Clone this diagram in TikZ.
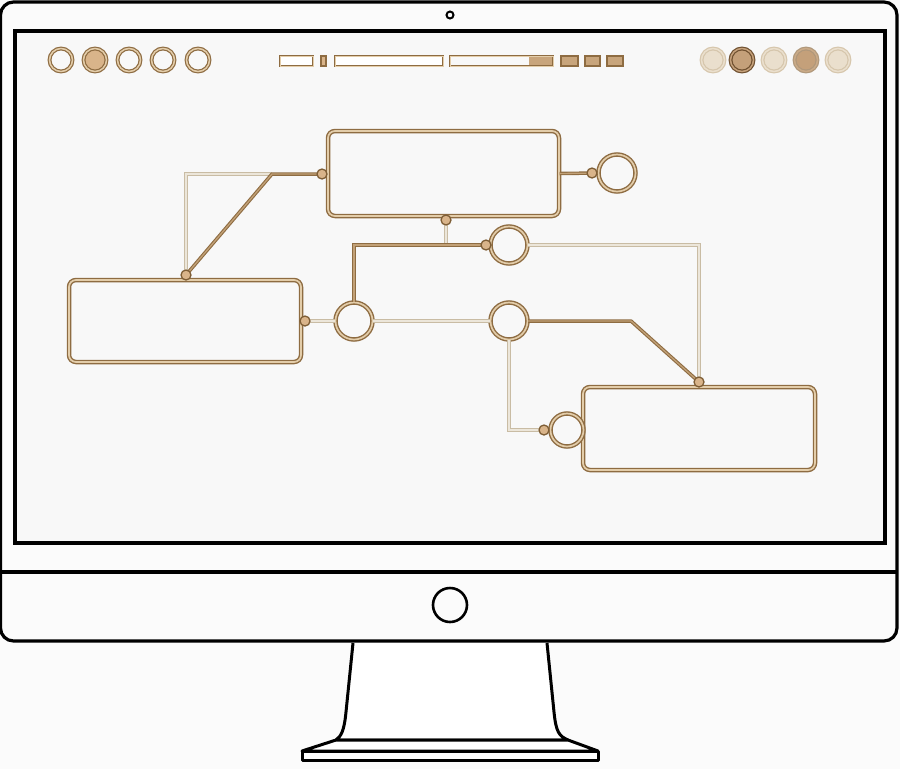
\documentclass[tikz,border=0pt]{standalone}
\usepackage{tikz}
\begin{document}
\begin{tikzpicture}[x=1pt,y=-1pt,
  frame/.style={draw=black,line width=3.2pt},
  diabox/.style={draw=tanDark,double=tanLight,double distance=1.7pt,line width=1.4pt,rounded corners=7pt,fill=screenbg,inner sep=0pt},
  ring/.style={circle,draw=tanDark,double=tanLight,double distance=1.7pt,line width=1.4pt,fill=screenbg,inner sep=0pt},
  port/.style={circle,draw=portLine,line width=1.3pt,fill=portFill,minimum size=10pt,inner sep=0pt},
  darkline/.style={draw=tanDark,double=tanMid,double distance=1.3pt,line width=1.1pt},
  paleline/.style={draw=paleLine,double=paleInner,double distance=1.4pt,line width=1.1pt},
  tbring/.style={circle,draw=tanDark,double=tanLight,double distance=1.5pt,line width=1.2pt,minimum size=23pt,inner sep=0pt},
  tbbar/.style={draw=tanDark,double=tanLight,double distance=0.8pt,line width=0.9pt,fill=white},
  tbsq/.style={draw=tanDark,line width=1.5pt,fill=tanSq}
]
\definecolor{tanDark}{HTML}{8E6C42}
\definecolor{tanMid}{HTML}{C2A177}
\definecolor{tanLight}{HTML}{E3CDAA}
\definecolor{portFill}{HTML}{D9B48A}
\definecolor{portLine}{HTML}{7E5E36}
\definecolor{paleLine}{HTML}{C9BCA4}
\definecolor{paleInner}{HTML}{ECE6DA}
\definecolor{screenbg}{HTML}{F8F8F8}
\definecolor{pagebg}{HTML}{FBFBFB}
\definecolor{tanSq}{HTML}{C8A57C}
\definecolor{beigeA}{HTML}{EADFCD}
\definecolor{beigeB}{HTML}{D6C6AC}
\definecolor{brownA}{HTML}{C4A07A}
\definecolor{brownB}{HTML}{6F5030}

\fill[pagebg] (0,0) rectangle (900,769);
\useasboundingbox (0,0) rectangle (900,769);

% stand
\draw[frame,line width=3pt,fill=white,line join=round]
  (353,643) -- (346,712) .. controls (344,732) and (341,736) .. (336,740) -- (568,740)
  .. controls (559,736) and (556,732) .. (554,712) -- (547,643);
\draw[frame,line width=3pt,fill=white,line join=round]
  (336,740) -- (302,751) -- (598,751) -- (568,740) -- cycle;
\draw[frame,line width=3pt,fill=white,line join=round] (302,751) rectangle (598,760);

% monitor body
\draw[frame,fill=pagebg,rounded corners=13pt] (0.5,2) rectangle (897,641);
\draw[frame] (0,572) -- (898,572);
\draw[frame,line width=3.6pt,fill=screenbg] (15,31) rectangle (885,543);
\node[circle,draw=black,line width=2pt,minimum size=7pt,inner sep=0pt] (cam) at (450,15) {};
\node[circle,draw=black,line width=2.6pt,minimum size=34pt,inner sep=0pt] (btn) at (450,605) {};

% toolbar left circles
\node[tbring,fill=screenbg] (l1) at (61,60) {};
\node[tbring,fill=portFill] (l2) at (95,60) {};
\node[tbring,fill=screenbg] (l3) at (129,60) {};
\node[tbring,fill=screenbg] (l4) at (163,60) {};
\node[tbring,fill=screenbg] (l5) at (198,60) {};
% toolbar right circles
\node[tbring,draw=beigeB,double=beigeA,fill=beigeA] (r1) at (713,60) {};
\node[tbring,draw=brownB,double=brownA,fill=brownA] (r2) at (742,60) {};
\node[tbring,draw=beigeB,double=beigeA,fill=beigeA] (r3) at (774,60) {};
\node[tbring,draw=tanDark!70,double=brownA!90,fill=brownA] (r4) at (806,60) {};
\node[tbring,draw=beigeB,double=beigeA,fill=beigeA] (r5) at (838,60) {};
% toolbar bars
\draw[tbbar] (280,56) rectangle (313,66);
\draw[tbsq,fill=portFill,line width=1.2pt] (321,56) rectangle (326,66);
\draw[tbbar] (335,56) rectangle (443,66);
\fill[tanSq] (529,56) rectangle (553,66);
\draw[tbbar,fill=none] (450,56) rectangle (553,66);
\draw[tbsq] (561,56) rectangle (578,66);
\draw[tbsq] (585,56) rectangle (600,66);
\draw[tbsq] (607,56) rectangle (623,66);

% diagram nodes
\node[diabox,minimum width=231pt,minimum height=85pt] (A) at (443.5,173.5) {};
\node[diabox,minimum width=232pt,minimum height=82pt] (B) at (185,321) {};
\node[diabox,minimum width=232pt,minimum height=83pt] (C) at (699,428.5) {};
\node[ring,minimum size=37pt] (C1) at (617,173) {};
\node[ring,minimum size=37pt] (C2) at (509,245) {};
\node[ring,minimum size=37pt] (C3) at (354,321) {};
\node[ring,minimum size=37pt] (C4) at (509,321) {};
\node[ring,minimum size=33pt] (C5) at (567,430) {};

% port positions
\coordinate (pAl) at (322,174);
\coordinate (pAb) at (446,220);
\coordinate (pAr) at (592,173);
\coordinate (pBt) at (186,275);
\coordinate (pBr) at (305,321);
\coordinate (pC2) at (486,245);
\coordinate (pCt) at (699,382);
\coordinate (pC5) at (544,430);
\coordinate (kA) at (272,174);
\coordinate (kB) at (446,245);
\coordinate (kC) at (631,321);

% pale connectors
\draw[paleline] (kA) -| (pBt);
\draw[paleline] (pAb) -- (kB);
\draw[paleline] (C2.east) -| (pCt);
\draw[paleline] (pBr) -- (C3.west);
\draw[paleline] (C3.east) -- (C4.west);
\draw[paleline] (C4.south) |- (pC5);
% dark connectors
\draw[darkline,line join=round] (pBt) -- (kA) -- (pAl);
\draw[darkline] (C3.north) |- (pC2);
\draw[darkline,line join=round] (C4.east) -- (kC) -- (pCt);
\draw[darkline] (A.east) -- (C1.west);

% ports
\foreach \p in {pAl,pAb,pAr,pBt,pBr,pC2,pCt,pC5}
  \node[port] (n\p) at (\p) {};
\end{tikzpicture}
\end{document}
